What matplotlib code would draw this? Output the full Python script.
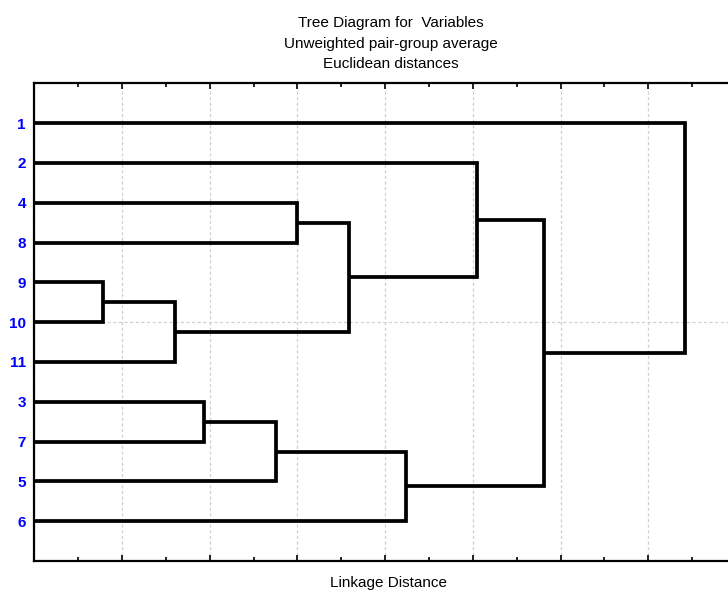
import matplotlib
matplotlib.use("Agg")
import matplotlib.pyplot as plt
from matplotlib.ticker import MultipleLocator

# ---- data ----
leaf_labels = ['1', '2', '4', '8', '9', '10', '11', '3', '7', '5', '6']
# merge steps (labels of leaves, or 'N<k>' for the k-th merge) and linkage distances
merge_left = ['9', 'N0', '3', 'N2', '4', 'N4', 'N3', '2', 'N7', '1']
merge_right = ['10', '11', '7', '5', '8', 'N1', '6', 'N5', 'N6', 'N8']
merge_dist = [0.78, 1.61, 1.93, 2.76, 2.99, 3.59, 4.24, 5.05, 5.81, 7.42]

title_lines = ['Tree Diagram for  Variables', 'Unweighted pair-group average', 'Euclidean distances']
x_label = 'Linkage Distance'

plt.rcParams['font.family'] = ['Liberation Sans', 'DejaVu Sans']

W, H = 728, 590
fig = plt.figure(figsize=(W / 100, H / 100), dpi=100)
ax_left, ax_top, ax_bottom, ax_right = 34.3, 83.3, 561.0, 744.0
ax = fig.add_axes([ax_left / W, (H - ax_bottom) / H,
                   (ax_right - ax_left) / W, (ax_bottom - ax_top) / H])

# positions of nodes
pos = {lab: (0.0, i + 1) for i, lab in enumerate(leaf_labels)}
for k, (a, b, d) in enumerate(zip(merge_left, merge_right, merge_dist)):
    xa, ya = pos[a]
    xb, yb = pos[b]
    ax.plot([xa, d, d, xb], [ya, ya, yb, yb], color='black', lw=2.7,
            solid_joinstyle='miter', solid_capstyle='butt', zorder=3)
    pos['N%d' % k] = (d, (ya + yb) / 2)

n = len(leaf_labels)
ax.set_ylim(n + 1, 0)
ax.set_xlim(0, (ax_right - ax_left) / 87.7)

# y ticks: leaf labels
ax.set_yticks(range(1, n + 1))
ax.set_yticklabels(leaf_labels, color='#0000ff', fontweight='bold', fontsize=11)
ax.tick_params(axis='y', length=0, pad=6)

# x ticks: inward, top and bottom, no labels
ax.xaxis.set_major_locator(MultipleLocator(1))
ax.xaxis.set_minor_locator(MultipleLocator(0.5))
ax.tick_params(axis='x', which='both', direction='in', top=True, bottom=True,
               labelbottom=False, labeltop=False, width=1.2, color='black')
ax.tick_params(axis='x', which='major', length=4.5)
ax.tick_params(axis='x', which='minor', length=3)

ax.grid(axis='x', which='major', color='#d0d0d0', linestyle=(0, (2.5, 2)), lw=0.9, zorder=0)
ax.axhline((n + 1) / 2, color='#d0d0d0', linestyle=(0, (2.5, 2)), lw=0.9, zorder=0)

for s in ['left', 'top', 'bottom']:
    ax.spines[s].set_linewidth(1.6)
ax.spines['right'].set_visible(False)

cx = 391.0 / W
for i, t in enumerate(title_lines):
    yb = [26.7, 47.8, 68.5][i]
    fig.text(cx, (H - yb) / H, t, ha='center', va='baseline', fontsize=11)

fig.text(389.0 / W, (H - 587.5) / H, x_label, ha='center', va='baseline', fontsize=11)

fig.savefig('out.png', dpi=100)
